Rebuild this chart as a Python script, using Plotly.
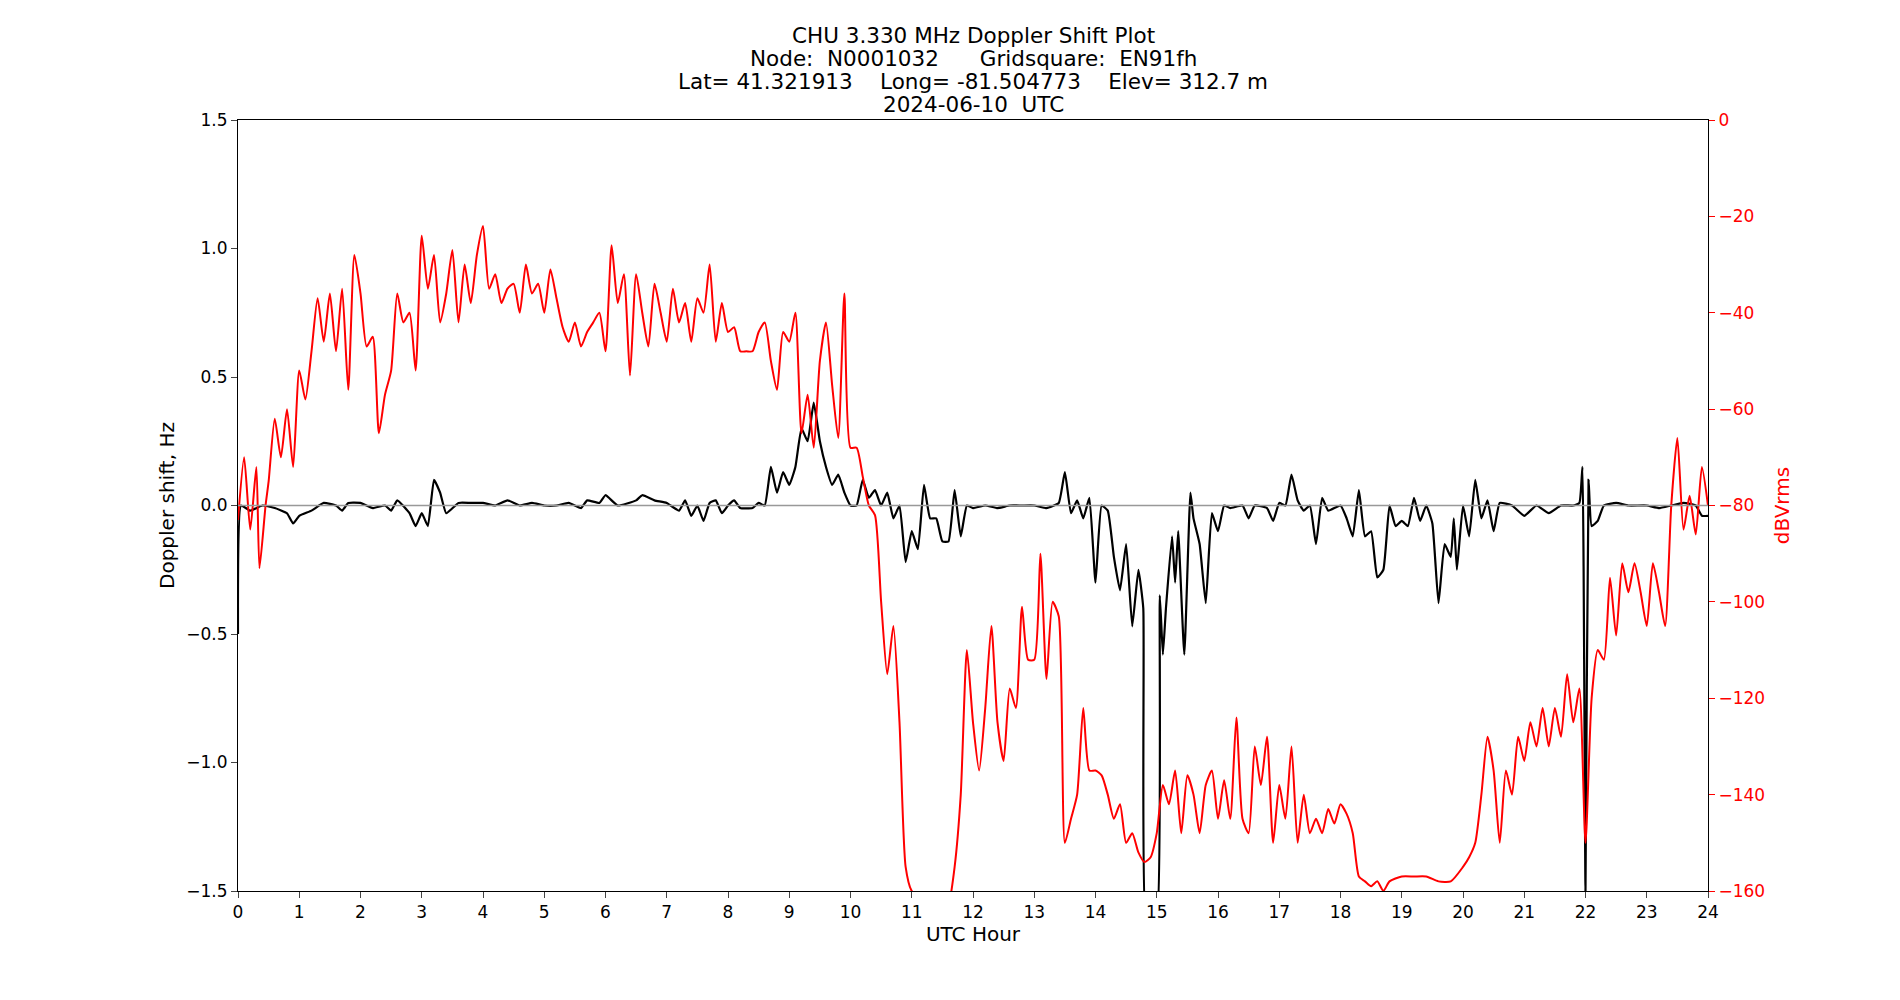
import plotly.graph_objects as go

red_pts = [(0.0,-83),(0.1,-70),(0.2,-85),(0.3,-72),(0.35,-93),(0.45,-80),(0.5,-75),(0.6,-62),(0.7,-70),(0.8,-60),(0.9,-72),(1.0,-52),(1.1,-58),(1.2,-48),(1.3,-37),(1.4,-46),(1.5,-36),(1.6,-48),(1.7,-35),(1.8,-56),(1.9,-28),(2.0,-36),(2.1,-47),(2.2,-45),(2.3,-65),(2.4,-57),(2.5,-52),(2.6,-36),(2.7,-42),(2.8,-40),(2.9,-52),(3.0,-24),(3.1,-35),(3.2,-28),(3.3,-42),(3.4,-36),(3.5,-27),(3.6,-42),(3.7,-30),(3.8,-38),(3.9,-28),(4.0,-22),(4.1,-35),(4.2,-32),(4.3,-38),(4.4,-35),(4.5,-34),(4.6,-40),(4.7,-30),(4.8,-36),(4.9,-34),(5.0,-40),(5.1,-31),(5.2,-37),(5.3,-43),(5.4,-46),(5.5,-42),(5.6,-47),(5.7,-44),(5.8,-42),(5.9,-40),(6.0,-48),(6.1,-26),(6.2,-38),(6.3,-32),(6.4,-53),(6.5,-32),(6.6,-40),(6.7,-47),(6.8,-34),(6.9,-40),(7.0,-46),(7.1,-35),(7.2,-42),(7.3,-38),(7.4,-46),(7.5,-37),(7.6,-40),(7.7,-30),(7.8,-46),(7.9,-38),(8.0,-44),(8.1,-43),(8.2,-48),(8.3,-48),(8.4,-48),(8.5,-44),(8.6,-42),(8.7,-50),(8.8,-56),(8.9,-44),(9.0,-46),(9.1,-40),(9.2,-65),(9.3,-57),(9.4,-68),(9.5,-50),(9.6,-42),(9.7,-55),(9.8,-66),(9.9,-36),(10.0,-68),(10.1,-68),(10.2,-74),(10.3,-80),(10.4,-82),(10.5,-100),(10.6,-115),(10.7,-105),(10.8,-125),(10.9,-155),(11.0,-160),(11.2,-162),(11.5,-165),(11.6,-163),(11.7,-155),(11.8,-140),(11.9,-110),(12.0,-125),(12.1,-135),(12.2,-122),(12.3,-105),(12.4,-125),(12.5,-133),(12.6,-118),(12.7,-122),(12.8,-101),(12.9,-112),(13.0,-112),(13.1,-90),(13.2,-116),(13.3,-100),(13.4,-103),(13.5,-150),(13.6,-145),(13.7,-140),(13.8,-122),(13.9,-135),(14.0,-135),(14.1,-136),(14.2,-140),(14.3,-145),(14.4,-142),(14.5,-150),(14.6,-148),(14.7,-152),(14.8,-154),(14.9,-153),(15.0,-148),(15.1,-138),(15.2,-142),(15.3,-135),(15.4,-148),(15.5,-136),(15.6,-140),(15.7,-148),(15.8,-138),(15.9,-135),(16.0,-145),(16.1,-137),(16.2,-145),(16.3,-124),(16.4,-145),(16.5,-148),(16.6,-130),(16.7,-138),(16.8,-128),(16.9,-150),(17.0,-138),(17.1,-145),(17.2,-130),(17.3,-150),(17.4,-140),(17.5,-148),(17.6,-145),(17.7,-148),(17.8,-143),(17.9,-146),(18.0,-142),(18.1,-144),(18.2,-148),(18.3,-157),(18.4,-158),(18.5,-159),(18.6,-158),(18.7,-160),(18.8,-158),(19.0,-157),(19.2,-157),(19.4,-157),(19.6,-158),(19.8,-158),(20.0,-155),(20.1,-153),(20.2,-150),(20.3,-140),(20.4,-128),(20.5,-135),(20.6,-150),(20.7,-135),(20.8,-140),(20.9,-128),(21.0,-133),(21.1,-125),(21.2,-130),(21.3,-122),(21.4,-130),(21.5,-122),(21.6,-128),(21.7,-115),(21.8,-125),(21.9,-118),(22.0,-150),(22.1,-120),(22.2,-110),(22.3,-112),(22.4,-95),(22.5,-107),(22.6,-92),(22.7,-98),(22.8,-92),(22.9,-98),(23.0,-105),(23.1,-92),(23.2,-98),(23.3,-105),(23.4,-80),(23.5,-66),(23.6,-85),(23.7,-78),(23.8,-86),(23.9,-72),(24.0,-80)]
red_hours = [p[0] for p in red_pts]
red_dbv = [p[1] for p in red_pts]

blk_pts = [(0.0,-0.5),(0.05,0),(0.2,-0.02),(0.4,0),(0.6,-0.01),(0.8,-0.03),(0.9,-0.07),(1.0,-0.04),(1.2,-0.02),(1.4,0.01),(1.6,0.0),(1.7,-0.02),(1.8,0.01),(2.0,0.01),(2.2,-0.01),(2.4,0.0),(2.5,-0.02),(2.6,0.02),(2.8,-0.03),(2.9,-0.08),(3.0,-0.03),(3.1,-0.08),(3.2,0.1),(3.3,0.05),(3.4,-0.03),(3.6,0.01),(3.8,0.01),(4.0,0.01),(4.2,0.0),(4.4,0.02),(4.6,0.0),(4.8,0.01),(5.0,0.0),(5.2,0.0),(5.4,0.01),(5.6,-0.01),(5.7,0.02),(5.9,0.01),(6.0,0.04),(6.2,0.0),(6.5,0.02),(6.6,0.04),(6.8,0.02),(7.0,0.01),(7.2,-0.02),(7.3,0.02),(7.4,-0.04),(7.5,0.0),(7.6,-0.06),(7.7,0.01),(7.8,0.02),(7.9,-0.03),(8.0,0.0),(8.1,0.02),(8.2,-0.01),(8.4,-0.01),(8.5,0.01),(8.6,0.0),(8.7,0.15),(8.8,0.05),(8.9,0.13),(9.0,0.08),(9.1,0.15),(9.2,0.3),(9.3,0.25),(9.4,0.4),(9.5,0.25),(9.6,0.15),(9.7,0.08),(9.8,0.12),(9.9,0.05),(10.0,0.0),(10.1,0.0),(10.2,0.1),(10.3,0.03),(10.4,0.06),(10.5,0.0),(10.6,0.05),(10.7,-0.05),(10.8,0.0),(10.9,-0.22),(11.0,-0.1),(11.1,-0.17),(11.2,0.08),(11.3,-0.05),(11.4,-0.05),(11.5,-0.14),(11.6,-0.14),(11.7,0.06),(11.8,-0.12),(11.9,0.0),(12.0,-0.01),(12.2,0.0),(12.4,-0.01),(12.6,0.0),(12.8,0.0),(13.0,0.0),(13.2,-0.01),(13.4,0.01),(13.5,0.13),(13.6,-0.03),(13.7,0.02),(13.8,-0.05),(13.9,0.03),(14.0,-0.3),(14.1,0.0),(14.2,-0.02),(14.3,-0.2),(14.4,-0.33),(14.5,-0.15),(14.6,-0.47),(14.7,-0.25),(14.78,-0.4),(14.82,-1.6),(14.9,-1.6),(15.0,-1.6),(15.05,-0.35),(15.1,-0.58),(15.15,-0.4),(15.25,-0.12),(15.3,-0.3),(15.35,-0.1),(15.45,-0.58),(15.55,0.05),(15.6,-0.05),(15.7,-0.15),(15.8,-0.38),(15.9,-0.03),(16.0,-0.1),(16.1,0.0),(16.2,-0.01),(16.4,0.0),(16.5,-0.05),(16.6,0.0),(16.8,-0.01),(16.9,-0.06),(17.0,0.01),(17.1,0.0),(17.2,0.12),(17.3,0.02),(17.4,-0.02),(17.5,0.0),(17.6,-0.15),(17.7,0.03),(17.8,-0.02),(18.0,0.0),(18.1,-0.05),(18.2,-0.12),(18.3,0.06),(18.4,-0.12),(18.5,-0.1),(18.6,-0.28),(18.7,-0.25),(18.8,0.0),(18.9,-0.08),(19.0,-0.06),(19.1,-0.08),(19.2,0.03),(19.3,-0.06),(19.4,0.0),(19.5,-0.07),(19.6,-0.38),(19.7,-0.15),(19.8,-0.2),(19.85,-0.05),(19.9,-0.25),(20.0,0.0),(20.1,-0.12),(20.2,0.1),(20.3,-0.05),(20.4,0.02),(20.5,-0.1),(20.6,0.01),(20.8,0.0),(21.0,-0.04),(21.2,0.0),(21.4,-0.03),(21.6,0.0),(21.8,0.0),(21.9,0.01),(21.95,0.15),(22.0,-1.5),(22.05,0.1),(22.1,-0.08),(22.2,-0.06),(22.3,0.0),(22.5,0.01),(22.7,0.0),(23.0,0.0),(23.2,-0.01),(23.4,0.0),(23.6,0.01),(23.8,0.0),(23.9,-0.04),(24.0,-0.04)]
blk_hours = [p[0] for p in blk_pts]
blk_hz = [p[1] for p in blk_pts]

title_lines = ["CHU 3.330 MHz Doppler Shift Plot",
               "Node:  N0001032      Gridsquare:  EN91fh",
               "Lat= 41.321913    Long= -81.504773    Elev= 312.7 m",
               "2024-06-10  UTC"]

font = "DejaVu Sans"
M_T, M_B = 112, 117
plot_h = 1000 - M_T - M_B
fig = go.Figure()
fig.add_trace(go.Scatter(x=red_hours, y=red_dbv, yaxis="y2", mode="lines",
                         line=dict(color="red", width=2, shape="spline", smoothing=0.6), showlegend=False))
fig.add_trace(go.Scatter(x=blk_hours, y=blk_hz, mode="lines",
                         line=dict(color="black", width=2.2, shape="spline", smoothing=0.4), showlegend=False))
fig.add_hline(y=0, line=dict(color="#999999", width=1.5))

for i, t in enumerate(title_lines):
    fig.add_annotation(text=t.replace("  ", "&nbsp; "), xref="x domain", x=0.5, yref="paper",
                       y=1 + (M_T - (27.5 + 23.0 * i)) / plot_h, xanchor="center", yanchor="middle",
                       showarrow=False, font=dict(size=21.5, color="black"))

fig.update_layout(
    width=1900, height=1000, plot_bgcolor="white", paper_bgcolor="white",
    font=dict(family=font, size=17, color="black"),
    margin=dict(l=230, r=200, t=M_T, b=M_B, autoexpand=False),
    xaxis=dict(range=[0, 24], tickvals=list(range(25)), showgrid=False, zeroline=False,
               showline=True, linecolor="black", mirror=True, ticks="outside", ticklen=6,
               title=dict(text="UTC Hour", standoff=4)),
    yaxis=dict(range=[-1.5, 1.5], tickvals=[-1.5, -1.0, -0.5, 0.0, 0.5, 1.0, 1.5],
               ticktext=["\u22121.5", "\u22121.0", "\u22120.5", "0.0", "0.5", "1.0", "1.5"],
               showgrid=False, zeroline=False, showline=True, linecolor="black",
               ticks="outside", ticklen=6, title=dict(text="Doppler shift, Hz", standoff=6)),
    yaxis2=dict(overlaying="y", side="right", range=[-160, 0], tickvals=list(range(-160, 1, 20)),
                ticktext=[("\u2212%d" % -v) if v < 0 else "0" for v in range(-160, 1, 20)],
                showgrid=False, zeroline=False, showline=True, linecolor="black",
                ticks="outside", ticklen=6, tickcolor="red", tickfont=dict(color="red"),
                title=dict(text="dBVrms", font=dict(color="red"), standoff=10)),
)
fig.write_html("out.html")
